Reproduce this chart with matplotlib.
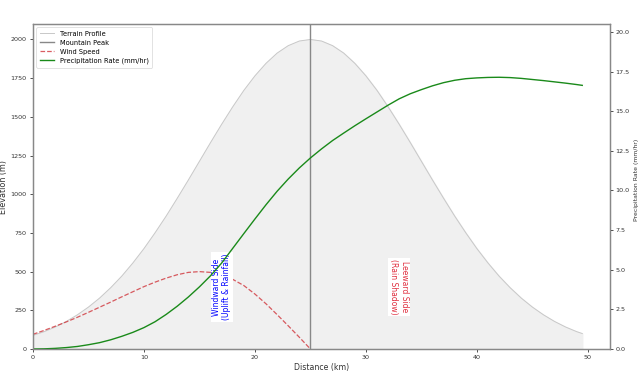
import matplotlib
matplotlib.use("Agg")
import matplotlib.pyplot as plt

distance = list(range(0, 50)) + [49.5]
terrain = [88, 112, 142, 178, 221, 271, 329, 396, 471, 556,
           649, 751, 859, 974, 1092, 1213, 1334, 1452, 1565, 1671,
           1765, 1846, 1912, 1960, 1990, 2000, 1990, 1960, 1912, 1846,
           1765, 1671, 1565, 1452, 1334, 1213, 1092, 974, 859, 751,
           649, 556, 471, 396, 329, 271, 221, 178, 142, 112, 100]
wind_x = list(range(0, 26))
wind = [95, 120, 147, 175, 205, 237, 270, 303, 337, 370,
        403, 432, 458, 480, 495, 500, 495, 478, 450, 410,
        355, 292, 222, 150, 76, 0]
precip = [0.0, 0.01, 0.04, 0.09, 0.16, 0.27, 0.40, 0.58, 0.80, 1.05,
          1.35, 1.72, 2.18, 2.70, 3.28, 3.92, 4.62, 5.42, 6.35, 7.28,
          8.20, 9.10, 9.95, 10.72, 11.42, 12.05, 12.62, 13.15, 13.62, 14.08,
          14.52, 14.95, 15.38, 15.78, 16.10, 16.36, 16.60, 16.80, 16.95, 17.05,
          17.10, 17.13, 17.14, 17.12, 17.07, 17.00, 16.93, 16.85, 16.77, 16.68, 16.63]
peak_x = 25

fs = 4.6
fig = plt.figure(figsize=(6.4, 3.73), dpi=100)
ax = fig.add_axes([33/640, 1-349/373, (610-33)/640, (349-24)/373])
ax2 = ax.twinx()

ax.fill_between(distance, terrain, color='#f0f0f0', zorder=1)
l1, = ax.plot(distance, terrain, color='#c8c8c8', lw=0.7, label='Terrain Profile', zorder=2)
l2 = ax.axvline(peak_x, color='#888888', lw=1.0, label='Mountain Peak', zorder=3)
l3, = ax.plot(wind_x, wind, color='#d0343a', ls='--', lw=0.9, alpha=0.8, label='Wind Speed', zorder=4)
l4, = ax2.plot(distance, precip, color='#1a8a1a', lw=1.0, label='Precipitation Rate (mm/hr)')

ax.set_xlim(0, 52)
ax.set_ylim(0, 2100)
ax2.set_ylim(0, 20.5)
ax.set_xticks([0, 10, 20, 30, 40, 50])
ax.set_yticks(range(0, 2001, 250))
ax2.set_yticks([0, 2.5, 5, 7.5, 10, 12.5, 15, 17.5, 20])
ax2.set_yticklabels(['0.0', '2.5', '5.0', '7.5', '10.0', '12.5', '15.0', '17.5', '20.0'])

for a in (ax, ax2):
    a.tick_params(labelsize=fs, colors='#333333', length=2.5, width=0.6, pad=2)
    for s in a.spines.values():
        s.set_color('#888888')
        s.set_linewidth(0.9)
ax2.tick_params(pad=1.5)

ax.set_xlabel('Distance (km)', fontsize=5.6, color='#333333', labelpad=2)
ax.set_ylabel('Elevation (m)', fontsize=5.8, color='#333333', labelpad=2)
ax2.set_ylabel('Precipitation Rate (mm/hr)', fontsize=4.4, color='#333333', labelpad=1.5)
ax2.yaxis.set_label_coords(1.041, 0.52)

ax.text(17, 400, 'Windward Side\n(Uplift & Rainfall)', rotation=90, color='blue',
        fontsize=5.5, ha='center', va='center', zorder=6,
        bbox=dict(facecolor='white', edgecolor='none', pad=1.0))
ax.text(33, 400, 'Leeward Side\n(Rain Shadow)', rotation=270, color='#e03040',
        fontsize=5.5, ha='center', va='center', zorder=6,
        bbox=dict(facecolor='white', edgecolor='none', pad=1.0))

leg = ax2.legend(handles=[l1, l2, l3, l4], loc='upper left', fontsize=4.8,
                 frameon=True, borderpad=0.5, handlelength=2.2, labelspacing=0.45)
leg.get_frame().set_linewidth(0.5)

fig.savefig('out.png', dpi=100)
